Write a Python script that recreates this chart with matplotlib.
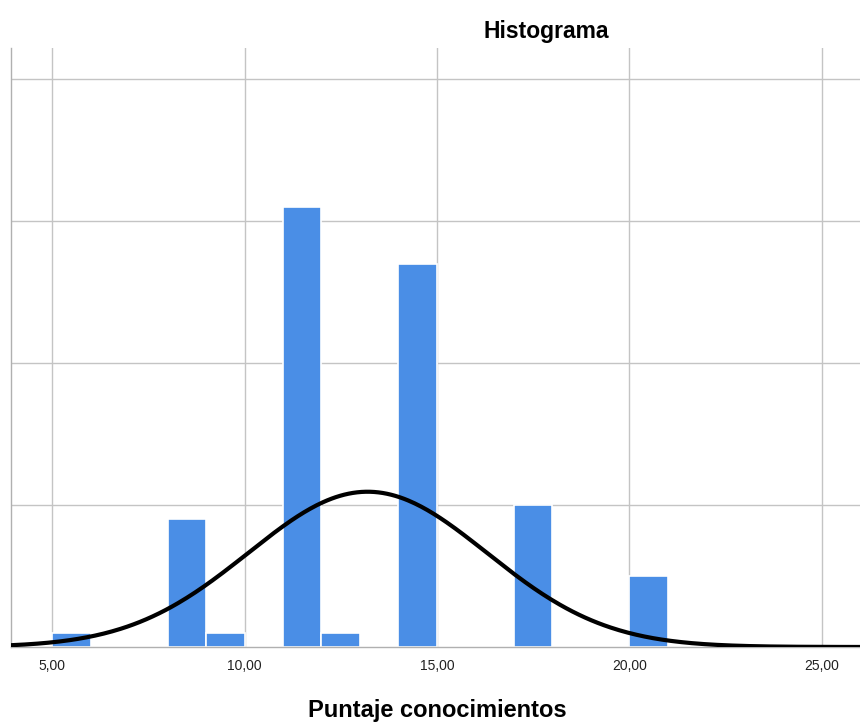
import numpy as np
import matplotlib.pyplot as plt

# histogram bins (width 1) and counts
bin_left = [5, 8, 9, 11, 12, 14, 17, 20]
counts = [1, 9, 1, 31, 1, 27, 10, 5]
bin_width = 1.0

# fitted normal curve parameters
mean = 13.2
sd = 3.1
n = sum(counts)

x_ticks = [5, 10, 15, 20, 25]
y_grid = [10, 20, 30, 40]

fig = plt.figure(figsize=(8.6, 7.24), dpi=100)
ax = fig.add_axes([11 / 860, 1 - 647 / 724, 1 - 11 / 860, (647 - 48) / 724])

ax.bar(bin_left, counts, width=bin_width, align='edge', color='#4a8ee6',
       edgecolor='white', linewidth=1.2, zorder=2)

xs = np.linspace(3.9, 26, 400)
ys = n * bin_width / (sd * np.sqrt(2 * np.pi)) * np.exp(-0.5 * ((xs - mean) / sd) ** 2)
ax.plot(xs, ys, color='black', linewidth=3, zorder=3)

ax.set_xlim(3.93, 26.0)
ax.set_ylim(0, 42.2)
ax.set_xticks(x_ticks)
ax.set_xticklabels([f'{v:.2f}'.replace('.', ',') for v in x_ticks],
                   fontsize=10, family='Liberation Sans')
ax.set_yticks(y_grid)
ax.set_yticklabels([])
ax.tick_params(length=0, pad=9, colors='#222222')
ax.grid(True, color='#c4c4c4', linewidth=1, zorder=0)
ax.set_axisbelow(True)

for side in ['top', 'right']:
    ax.spines[side].set_visible(False)
for side in ['left', 'bottom']:
    ax.spines[side].set_color('#b0b0b0')
    ax.spines[side].set_linewidth(1)

fig.text(546 / 860, 1 - 38 / 724, 'Histograma', ha='center', va='baseline',
         fontsize=16.5, fontweight='bold', family='Liberation Sans')
fig.text(437 / 860, 1 - 717 / 724, 'Puntaje conocimientos', ha='center', va='baseline',
         fontsize=17, fontweight='bold', family='Liberation Sans')

fig.savefig('out.png', dpi=100)
